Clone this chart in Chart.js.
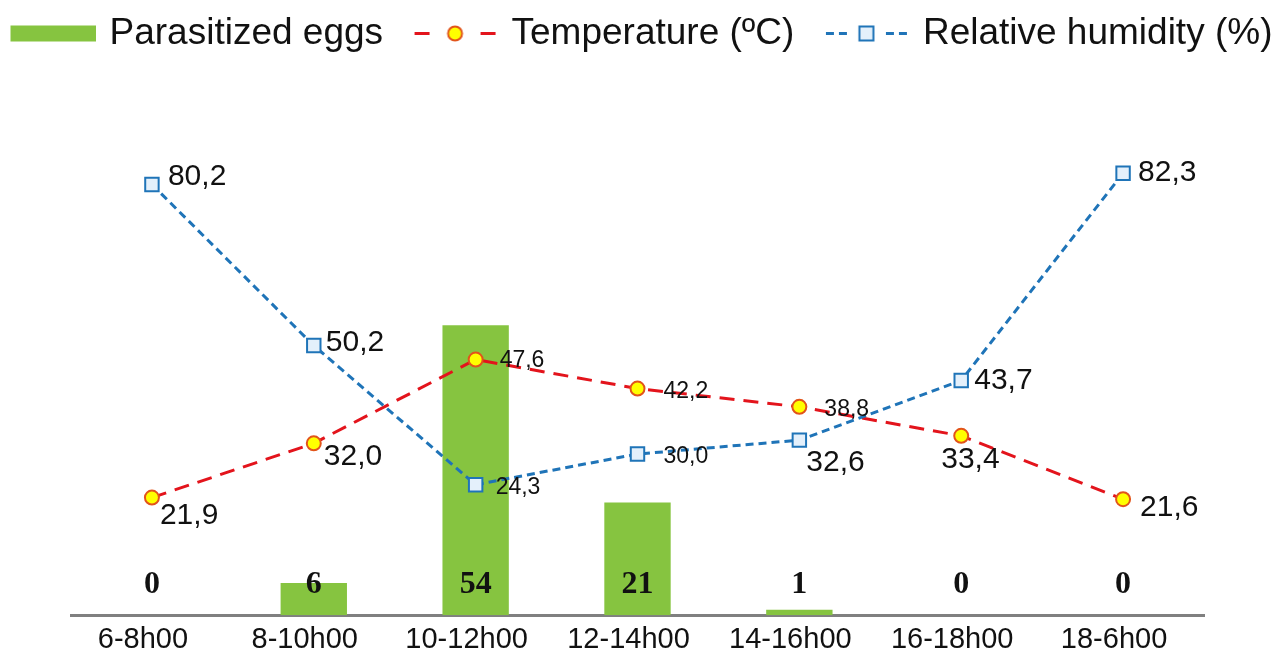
<!DOCTYPE html>
<html>
<head>
<meta charset="utf-8">
<script src="https://cdn.jsdelivr.net/npm/chart.js@4.4.1/dist/chart.umd.min.js"></script>
<style>
  html, body { margin: 0; padding: 0; background: #ffffff; }
  #wrap { width: 1286px; height: 656px; }
</style>
</head>
<body>
<div id="wrap"><canvas id="chart" width="1286" height="656"></canvas></div>
<script>
// Sampling periods of the day
const periods = ['6-8h00', '8-10h00', '10-12h00', '12-14h00', '14-16h00', '16-18h00', '18-6h00'];
// Number of parasitized eggs per period
const parasitizedEggs = [0, 6, 54, 21, 1, 0, 0];
// Mean air temperature (ºC) per period
const temperature = [21.9, 32.0, 47.6, 42.2, 38.8, 33.4, 21.6];
// Mean relative humidity (%) per period
const humidity = [80.2, 50.2, 24.3, 30.0, 32.6, 43.7, 82.3];

const SANS = '"Liberation Sans", Arial, sans-serif';
const SERIF = '"Liberation Serif", "Times New Roman", serif';

const GREEN = '#86c440';
const RED = '#e3141c';
const BLUE = '#1f74b8';

// Legend symbols drawn on small canvases (line + marker look)
function makeSymbol(kind) {
  const c = document.createElement('canvas');
  c.width = 115; c.height = 37;
  const g = c.getContext('2d');
  const x0 = 30, x1 = 115, cy = 18.5, mid = (x0 + x1) / 2;
  if (kind === 'bar') {
    g.fillStyle = GREEN;
    g.fillRect(x0, cy - 8, x1 - x0, 16);
  } else if (kind === 'temp') {
    g.strokeStyle = RED; g.lineWidth = 3;
    g.beginPath(); g.moveTo(x0 + 2, cy); g.lineTo(x0 + 17, cy);
    g.moveTo(x1 - 17, cy); g.lineTo(x1 - 2, cy); g.stroke();
    g.beginPath(); g.arc(mid, cy, 7, 0, Math.PI * 2);
    g.fillStyle = '#ffff00'; g.fill();
    g.strokeStyle = '#e2541a'; g.lineWidth = 2; g.stroke();
  } else {
    g.strokeStyle = BLUE; g.lineWidth = 3;
    g.beginPath();
    g.moveTo(x0 + 2, cy); g.lineTo(x0 + 10, cy);
    g.moveTo(x0 + 15, cy); g.lineTo(x0 + 23, cy);
    g.moveTo(x1 - 23, cy); g.lineTo(x1 - 15, cy);
    g.moveTo(x1 - 10, cy); g.lineTo(x1 - 2, cy);
    g.stroke();
    g.fillStyle = '#e4f0fb'; g.fillRect(mid - 7, cy - 7, 14, 14);
    g.strokeStyle = BLUE; g.lineWidth = 2; g.strokeRect(mid - 7, cy - 7, 14, 14);
  }
  return c;
}
const legendSymbols = [makeSymbol('bar'), makeSymbol('temp'), makeSymbol('hum')];

const fmt = v => v.toFixed(1).replace('.', ',');

// Value labels next to the markers and above the bars
const valueLabels = {
  id: 'valueLabels',
  afterDatasetsDraw(chart, args, opts) {
    const ctx = chart.ctx;
    ctx.save();
    ctx.fillStyle = '#111';
    ctx.textBaseline = 'middle';
    // bar counts, written on a common row just above the axis
    const barMeta = chart.getDatasetMeta(0);
    ctx.font = 'bold 32px ' + SERIF;
    ctx.textAlign = 'center';
    barMeta.data.forEach((el, i) => {
      ctx.fillText(String(parasitizedEggs[i]), el.x, chart.chartArea.bottom - 30);
    });
    // line values
    ctx.textAlign = 'left';
    opts.placements.forEach(p => {
      const meta = chart.getDatasetMeta(p.dataset);
      const values = chart.data.datasets[p.dataset].data;
      p.offsets.forEach((o, i) => {
        const el = meta.data[i];
        ctx.font = (o[2] ? 23 : 30) + 'px ' + SANS;
        ctx.fillText(fmt(values[i]), el.x + o[0], el.y + o[1]);
      });
    });
    ctx.restore();
  }
};

new Chart(document.getElementById('chart'), {
  type: 'bar',
  data: {
    labels: periods,
    datasets: [
      {
        label: 'Parasitized eggs',
        data: parasitizedEggs,
        backgroundColor: GREEN,
        borderWidth: 0,
        barPercentage: 0.41,
        categoryPercentage: 1,
        order: 3
      },
      {
        type: 'line',
        label: 'Temperature (ºC)',
        data: temperature,
        borderColor: RED,
        borderWidth: 3,
        borderDash: [15, 9],
        tension: 0,
        pointStyle: 'circle',
        pointRadius: 7,
        pointBackgroundColor: '#ffff00',
        pointBorderColor: '#e2541a',
        pointBorderWidth: 2,
        order: 2
      },
      {
        type: 'line',
        label: 'Relative humidity (%)',
        data: humidity,
        borderColor: BLUE,
        borderWidth: 3,
        borderDash: [8, 5],
        tension: 0,
        pointStyle: 'rect',
        pointRadius: 9.5,
        pointBackgroundColor: '#e4f0fb',
        pointBorderColor: BLUE,
        pointBorderWidth: 2,
        order: 1
      }
    ]
  },
  options: {
    responsive: false,
    devicePixelRatio: 1,
    animation: false,
    layout: { padding: { left: -19, top: 11, right: 0, bottom: -8 } },
    plugins: {
      tooltip: { enabled: false },
      legend: {
        position: 'top',
        align: 'start',
        labels: {
          usePointStyle: true,
          pointStyleWidth: 106,
          padding: 4,
          color: '#111',
          font: { family: SANS, size: 37 },
          sort: (a, b) => a.datasetIndex - b.datasetIndex,
          generateLabels(chart) {
            const items = Chart.defaults.plugins.legend.labels.generateLabels(chart);
            items.forEach(it => { it.pointStyle = legendSymbols[it.datasetIndex]; });
            return items;
          }
        }
      },
      valueLabels: {
        placements: [
          { dataset: 1, offsets: [[8, 18], [10, 13], [24, 1, 1], [26, 3, 1], [25, 3, 1], [-20, 24], [17, 9]] },
          { dataset: 2, offsets: [[16, -8], [12, -3], [20, 3, 1], [26, 3, 1], [7, 23], [13, 0], [15, 0]] }
        ]
      }
    },
    scales: {
      x: {
        offset: true,
        grid: { display: false, drawTicks: false },
        border: { display: true, color: '#808080', width: 3 },
        ticks: { color: '#111', padding: 7, labelOffset: -9, font: { family: SANS, size: 29 } }
      },
      y: {
        min: 0,
        max: 103,
        grid: { display: false, drawTicks: false },
        border: { display: false },
        ticks: { display: false },
        afterFit(scale) { scale.width = 90; }
      },
      yRight: {
        position: 'right',
        grid: { display: false, drawTicks: false },
        border: { display: false },
        ticks: { display: false },
        afterFit(scale) { scale.width = 82; }
      }
    }
  },
  plugins: [valueLabels]
});
</script>
</body>
</html>
